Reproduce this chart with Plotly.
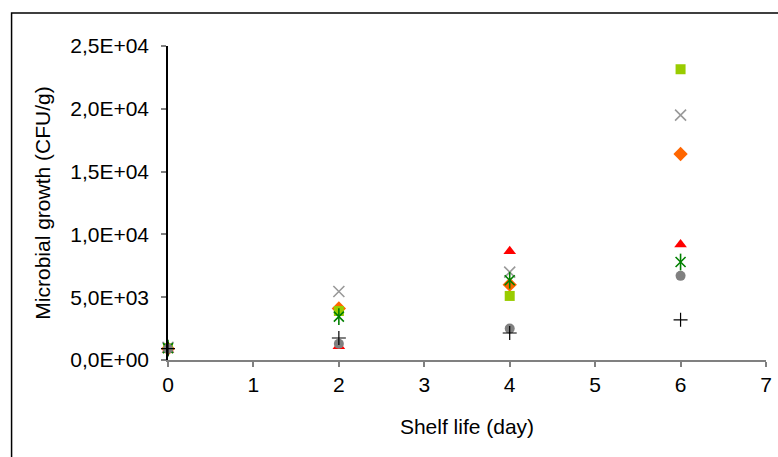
import plotly.graph_objects as go

days = [0, 2, 4, 6]
s_diamond = [900, 4100, 6000, 16400]
s_square = [950, 3900, 5100, 23150]
s_triangle = [800, 1100, 8650, 9200]
s_cross = [1000, 5450, 7000, 19500]
s_star = [950, 3450, 6350, 7800]
s_circle = [900, 1300, 2500, 6700]
s_plus = [900, 1750, 2150, 3200]

y_tickvals = [0, 5000, 10000, 15000, 20000, 25000]
y_ticktext = ["0,0E+00", "5,0E+03", "1,0E+04", "1,5E+04", "2,0E+04", "2,5E+04"]
x_tickvals = [0, 1, 2, 3, 4, 5, 6, 7]

GREEN = "#008000"
series = [
    (s_diamond, dict(symbol="diamond", size=11, color="#FF6600")),
    (s_square, dict(symbol="square", size=10, color="#99CC00")),
    (s_triangle, dict(symbol="triangle-up", size=11, color="#FF0000")),
    (s_cross, dict(symbol="x-thin-open", size=11, color="#999999", line=dict(width=1.6, color="#999999"))),
    # Excel "star" marker: X with a vertical bar
    (s_star, dict(symbol="x-thin-open", size=10, color=GREEN, line=dict(width=1.6, color=GREEN))),
    (s_star, dict(symbol="line-ns-open", size=12, color=GREEN, line=dict(width=1.6, color=GREEN))),
    (s_circle, dict(symbol="circle", size=10, color="#808080")),
    (s_plus, dict(symbol="cross-thin-open", size=10, color="#000000", line=dict(width=1.2, color="#000000"))),
]

fig = go.Figure()
for vals, mk in series:
    fig.add_trace(go.Scatter(x=days, y=vals, mode="markers", marker=mk, showlegend=False, cliponaxis=False))

font = dict(family="Liberation Sans, Arial, sans-serif", size=21, color="#000000")

L, R, T, B = 168, 6, 46, 97
PW = 778 - L - R
PH = 457 - T - B

fig.update_layout(
    width=778, height=457,
    margin=dict(l=L, r=R, t=T, b=B),
    paper_bgcolor="white", plot_bgcolor="white",
    font=font,
    xaxis=dict(
        range=[0, 7], tickvals=x_tickvals, showgrid=False, zeroline=False,
        showline=True, linecolor="#808080", linewidth=1.5,
        ticks="outside", ticklen=5, tickcolor="#808080", tickwidth=1.5,
        title=dict(text="Shelf life (day)", font=font, standoff=24),
        tickfont=font,
    ),
    yaxis=dict(
        range=[0, 25000], tickvals=y_tickvals, ticktext=y_ticktext, showgrid=False, zeroline=False,
        showline=True, linecolor="#000000", linewidth=1.5,
        ticks="outside", ticklen=5, tickcolor="#808080", tickwidth=1.5,
        title=dict(text="Microbial growth (CFU/g)", font=font, standoff=14),
        tickfont=font, ticklabelstandoff=8,
    ),
    shapes=[dict(type="rect", xref="paper", yref="paper",
                 x0=(10 - L) / PW, x1=(800 - L) / PW,
                 y0=-(480 - (457 - B)) / PH, y1=((457 - B) - 13) / PH,
                 line=dict(color="#000000", width=1.5), layer="below")],
)

fig.write_html("out.html", config={"displayModeBar": False},
               post_script="document.body.style.margin='0';")
